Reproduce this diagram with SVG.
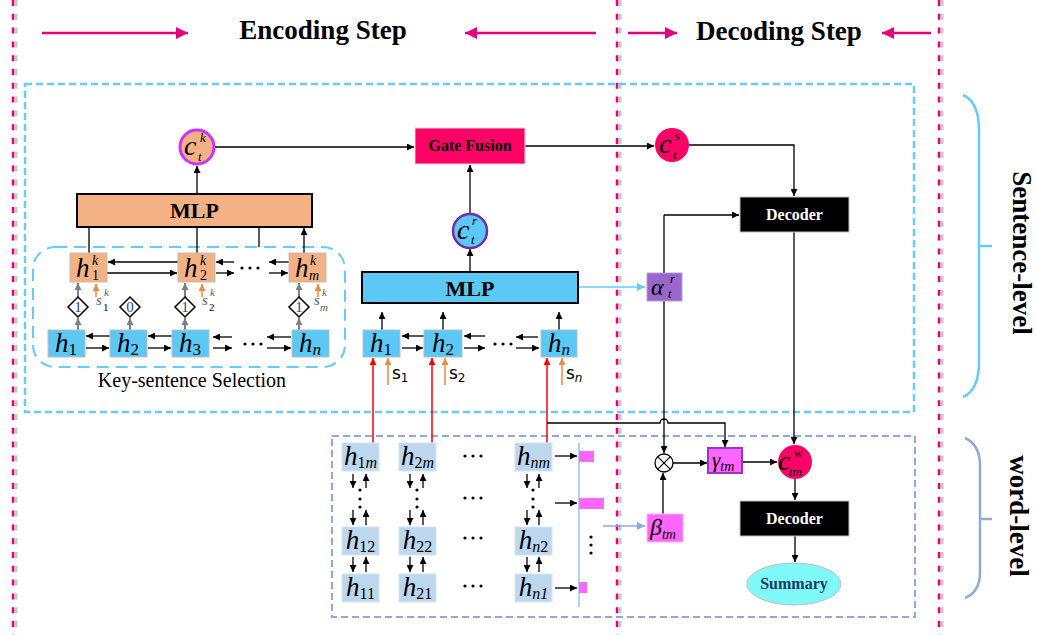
<svg xmlns="http://www.w3.org/2000/svg" width="1037" height="635" viewBox="0 0 1037 635">
<defs>
<marker id="ak" viewBox="0 0 10 10" refX="10" refY="5" markerWidth="8" markerHeight="7" markerUnits="userSpaceOnUse" orient="auto"><path d="M0,0L10,5L0,10z" fill="#000"/></marker>
<marker id="ag" viewBox="0 0 10 10" refX="10" refY="5" markerWidth="8" markerHeight="7" markerUnits="userSpaceOnUse" orient="auto"><path d="M0,0L10,5L0,10z" fill="#7f7f7f"/></marker>
<marker id="ao" viewBox="0 0 10 10" refX="10" refY="5" markerWidth="8" markerHeight="7" markerUnits="userSpaceOnUse" orient="auto"><path d="M0,0L10,5L0,10z" fill="#f08a3c"/></marker>
<marker id="ar" viewBox="0 0 10 10" refX="10" refY="5" markerWidth="8" markerHeight="7" markerUnits="userSpaceOnUse" orient="auto"><path d="M0,0L10,5L0,10z" fill="#ff0000"/></marker>
<marker id="al" viewBox="0 0 10 10" refX="10" refY="5" markerWidth="9" markerHeight="8" markerUnits="userSpaceOnUse" orient="auto"><path d="M0,0L10,5L0,10z" fill="#66ccff"/></marker>
<marker id="as" viewBox="0 0 10 10" refX="10" refY="5" markerWidth="9" markerHeight="8" markerUnits="userSpaceOnUse" orient="auto"><path d="M0,0L10,5L0,10z" fill="#8eaadb"/></marker>
<marker id="am" viewBox="0 0 10 10" refX="10" refY="5" markerWidth="14" markerHeight="12" markerUnits="userSpaceOnUse" orient="auto"><path d="M0,0L10,5L0,10z" fill="#e4007f"/></marker>
</defs>
<style>
text{font-family:"Liberation Serif","Times New Roman",serif;fill:#000}
.it{font-style:italic}
.b{font-weight:bold}
.hdr{font-size:27px;font-weight:bold}
.kk{stroke:#000;stroke-width:1.3;fill:none;marker-end:url(#ak)}
.g{stroke:#7f7f7f;stroke-width:2;fill:none;marker-end:url(#ag)}
.o{stroke:#f08a3c;stroke-width:1.5;fill:none;marker-end:url(#ao)}
.r{stroke:#ff0000;stroke-width:1.5;fill:none;marker-end:url(#ar)}
.div{stroke:#e4007f;stroke-width:2.5;stroke-dasharray:6 7.8}
.sh{stroke:#b0b0b0;stroke-width:3;stroke-dasharray:6 7.8;opacity:0.7}
.ob{fill:#f4b183;stroke:#bfbfbf;stroke-width:1}
.bb{fill:#5bc8f5;stroke:#bfbfbf;stroke-width:1}
.wb{fill:#bdd7ee;stroke:#d6e4f0;stroke-width:1}
.hl{font-size:27px;font-style:italic}
.cl{font-size:28px;font-style:italic}
.dot{fill:#000}
.dec{fill:#000;stroke:#bfbfbf;stroke-width:1}
.dect{fill:#fff;font-weight:bold;font-size:16px}
.dia{fill:#fff;stroke:#000;stroke-width:1.5}
.dn{fill:#1f4e79;font-size:15px}
.sk{fill:#595959;font-style:italic}
.sl{font-family:"DejaVu Sans",sans-serif;font-size:17px}
</style>

<g id="dividers">
<line class="sh" x1="16" y1="0" x2="16" y2="635"/>
<line class="div" x1="13" y1="0" x2="13" y2="635"/>
<line class="sh" x1="620" y1="0" x2="620" y2="635"/>
<line class="div" x1="617" y1="0" x2="617" y2="635"/>
<line class="sh" x1="942" y1="0" x2="942" y2="635"/>
<line class="div" x1="939" y1="0" x2="939" y2="635"/>
</g>

<g id="header">
<line x1="42" y1="33" x2="188" y2="33" stroke="#e4007f" stroke-width="2.5" marker-end="url(#am)"/>
<text class="hdr" x="323" y="39" text-anchor="middle">Encoding Step</text>
<line x1="596" y1="33" x2="465" y2="33" stroke="#e4007f" stroke-width="2.5" marker-end="url(#am)"/>
<line x1="628" y1="33" x2="677" y2="33" stroke="#e4007f" stroke-width="2.5" marker-end="url(#am)"/>
<text class="hdr" x="779" y="40" text-anchor="middle">Decoding Step</text>
<line x1="931" y1="33" x2="882" y2="33" stroke="#e4007f" stroke-width="2.5" marker-end="url(#am)"/>
</g>

<g id="regions">
<rect x="25" y="84" width="889" height="328" fill="none" stroke="#66ccff" stroke-width="2.5" stroke-dasharray="7 4"/>
<rect x="332" y="436" width="583" height="181" fill="none" stroke="#8eaadb" stroke-width="2" stroke-dasharray="7 4"/>
<rect x="33" y="247" width="312" height="120" rx="22" fill="none" stroke="#66ccff" stroke-width="2" stroke-dasharray="12 7"/>
<text x="192" y="387" text-anchor="middle" font-size="20" fill="#262626">Key-sentence Selection</text>
<path d="M963,95 Q979,102 979,130 V362 Q979,390 963,397 M979,246 H992" fill="none" stroke="#66ccff" stroke-width="2.5"/>
<text class="hdr" transform="translate(1013,253) rotate(90)" text-anchor="middle">Sentence-level</text>
<path d="M965,438 Q980,445 980,465 V572 Q980,592 965,598 M980,519 H992" fill="none" stroke="#8eaadb" stroke-width="2.5"/>
<text class="hdr" transform="translate(1010,516) rotate(90)" text-anchor="middle">word-level</text>
</g>

<g id="connectors">
<path class="kk" d="M197,194 V166"/>
<path class="kk" d="M214,147 H414"/>
<path class="kk" d="M89,253 V228 M197,253 V228 M259,247 V228 M304,253 V228"/>
<path class="kk" d="M178,262 H108"/><path class="kk" d="M107,273 H177"/>
<path class="kk" d="M234,262 H216"/><path class="kk" d="M216,273 H234"/>
<path class="kk" d="M289,262 H269"/><path class="kk" d="M269,273 H288"/>
<path class="kk" d="M110,336 H86"/><path class="kk" d="M86,348 H109"/>
<path class="kk" d="M172,336 H148"/><path class="kk" d="M148,348 H171"/>
<path class="kk" d="M232,337 H213"/><path class="kk" d="M213,348 H232"/>
<path class="kk" d="M291,337 H267"/><path class="kk" d="M267,348 H291"/>
<path class="g" d="M78,330 V318"/><path class="g" d="M78,297 V283"/>
<path class="g" d="M130,330 V318"/>
<path class="g" d="M185,330 V318"/><path class="g" d="M185,297 V283"/>
<path class="g" d="M299,330 V318"/><path class="g" d="M299,297 V283"/>
<path class="o" d="M96,297 V284"/><path class="o" d="M202,297 V284"/><path class="o" d="M318,297 V284"/>

<path class="kk" d="M470,213 V165"/>
<path class="kk" d="M470,272 V249"/>
<path class="kk" d="M382,330 V312"/><path class="kk" d="M443,330 V312"/><path class="kk" d="M559,330 V312"/>
<path class="kk" d="M424,336 H402"/><path class="kk" d="M402,348 H423"/>
<path class="kk" d="M485,336 H464"/><path class="kk" d="M464,348 H485"/>
<path class="kk" d="M538,337 H516"/><path class="kk" d="M516,348 H539"/>
<path class="r" d="M373,443 V358"/><path class="r" d="M432,443 V358"/><path class="r" d="M547,443 V358"/>
<path class="o" d="M388,385 V358"/><path class="o" d="M445,385 V358"/><path class="o" d="M562,385 V358"/>
<path d="M578,287 H645" stroke="#66ccff" stroke-width="1.3" fill="none" marker-end="url(#al)"/>

<path class="kk" d="M525,146 H654"/>
<path class="kk" d="M689,145 H794 V196"/>
<path class="kk" d="M664,215 H739"/>
<path class="kk" d="M664,215 V453"/>
<path class="kk" d="M794,232 V444"/>
<path class="kk" d="M547,423 H660 a4,4 0 0 1 8,0 H725 V447"/>
<path class="kk" d="M673,463 H707"/>
<path class="kk" d="M742,462 H777"/>
<path class="kk" d="M795,479 V500"/>
<path class="kk" d="M795,536 V562"/>
<path class="kk" d="M663,514 V473"/>
<path d="M603,526 H645" stroke="#8eaadb" stroke-width="1.5" fill="none" marker-end="url(#as)"/>

<path class="kk" d="M555,456 H577"/><path class="kk" d="M555,503 H577"/><path class="kk" d="M555,588 H577"/>
<path class="kk" d="M353,474 V488"/><path class="kk" d="M353,510 V525"/><path class="kk" d="M353,557 V572"/>
<path class="kk" d="M366,488 V474"/><path class="kk" d="M366,525 V510"/><path class="kk" d="M366,572 V557"/>
<path class="kk" d="M410,474 V488"/><path class="kk" d="M410,510 V525"/><path class="kk" d="M410,557 V572"/>
<path class="kk" d="M423,488 V474"/><path class="kk" d="M423,525 V510"/><path class="kk" d="M423,572 V557"/>
<path class="kk" d="M527,474 V488"/><path class="kk" d="M527,510 V525"/><path class="kk" d="M527,557 V572"/>
<path class="kk" d="M539,488 V474"/><path class="kk" d="M539,525 V510"/><path class="kk" d="M539,572 V557"/>
</g>

<g id="ctk">
<circle cx="197" cy="147" r="17" fill="#f4b183" stroke="#cc33ff" stroke-width="3"/>
<text class="cl" x="184" y="155">c</text>
<text class="it" x="200" y="142" font-size="13">k</text>
<text class="it" x="198" y="161" font-size="13">t</text>
</g>
<g id="mlp-k">
<rect x="77" y="194" width="235" height="33" fill="#f4b183" stroke="#000" stroke-width="2"/>
<text class="b" x="194.5" y="218" font-size="22" text-anchor="middle">MLP</text>
</g>
<g id="hk1"><rect class="ob" x="70" y="253" width="37" height="29"/>
<text class="hl" x="76" y="277">h</text><text class="it" x="92" y="265" font-size="14">k</text><text x="92" y="280" font-size="14">1</text></g>
<g id="hk2"><rect class="ob" x="178" y="253" width="37" height="29"/>
<text class="hl" x="184" y="277">h</text><text class="it" x="200" y="265" font-size="14">k</text><text x="200" y="280" font-size="14">2</text></g>
<g id="hkm"><rect class="ob" x="289" y="253" width="37" height="29"/>
<text class="hl" x="295" y="277">h</text><text class="it" x="310" y="265" font-size="14">k</text><text class="it" x="309" y="280" font-size="14">m</text></g>
<g id="hk-dots"><circle class="dot" cx="242" cy="268" r="1.6"/><circle class="dot" cx="250" cy="268" r="1.6"/><circle class="dot" cx="258" cy="268" r="1.6"/></g>

<g id="sel1"><path class="dia" d="M78,297 L88,307 L78,317 L68,307 Z"/><text class="dn" x="78" y="312" text-anchor="middle">1</text></g>
<g id="sel0"><path class="dia" d="M130,297 L140,307 L130,317 L120,307 Z"/><text class="dn" x="130" y="312" text-anchor="middle">0</text></g>
<g id="sel2"><path class="dia" d="M185,297 L195,307 L185,317 L175,307 Z"/><text class="dn" x="185" y="312" text-anchor="middle">1</text></g>
<g id="selm"><path class="dia" d="M299,297 L309,307 L299,317 L289,307 Z"/><text class="dn" x="299" y="312" text-anchor="middle">1</text></g>

<g id="sk-labels">
<text class="sk" x="96" y="305" font-size="15">s</text><text class="sk" x="104" y="296" font-size="11">k</text><text x="103" y="311" font-size="11" fill="#595959">1</text>
<text class="sk" x="202" y="305" font-size="15">s</text><text class="sk" x="210" y="296" font-size="11">k</text><text x="209" y="311" font-size="11" fill="#595959">2</text>
<text class="sk" x="314" y="305" font-size="15">s</text><text class="sk" x="322" y="296" font-size="11">k</text><text class="sk" x="320" y="311" font-size="11">m</text>
</g>

<g id="hl1"><rect class="bb" x="48" y="330" width="37" height="27"/><text class="hl" x="66" y="352" text-anchor="middle">h<tspan dy="3" font-size="17" font-style="normal">1</tspan></text></g>
<g id="hl2"><rect class="bb" x="110" y="330" width="37" height="27"/><text class="hl" x="128" y="352" text-anchor="middle">h<tspan dy="3" font-size="17" font-style="normal">2</tspan></text></g>
<g id="hl3"><rect class="bb" x="172" y="330" width="37" height="27"/><text class="hl" x="190" y="352" text-anchor="middle">h<tspan dy="3" font-size="17" font-style="normal">3</tspan></text></g>
<g id="hln"><rect class="bb" x="292" y="330" width="37" height="27"/><text class="hl" x="310" y="352" text-anchor="middle">h<tspan dy="3" font-size="17">n</tspan></text></g>
<g id="hl-dots"><circle class="dot" cx="245" cy="344" r="1.6"/><circle class="dot" cx="253" cy="344" r="1.6"/><circle class="dot" cx="261" cy="344" r="1.6"/></g>

<g id="gate">
<rect x="415" y="128" width="110" height="36" fill="#ff0066" stroke="#d9d9d9" stroke-width="1"/>
<text class="b" x="470" y="151" font-size="16" text-anchor="middle">Gate Fusion</text>
</g>
<g id="ctr">
<circle cx="470" cy="231" r="17" fill="#5bc8f5" stroke="#7030a0" stroke-width="2.5"/>
<text class="cl" x="457" y="239">c</text>
<text class="it" x="472" y="225" font-size="13">r</text>
<text class="it" x="471" y="244" font-size="13">t</text>
</g>
<g id="mlp-r">
<rect x="362" y="272" width="216" height="31" fill="#5bc8f5" stroke="#000" stroke-width="2"/>
<text class="b" x="470" y="296" font-size="22" text-anchor="middle">MLP</text>
</g>
<g id="hm1"><rect class="bb" x="363" y="330" width="37" height="27"/><text class="hl" x="381" y="352" text-anchor="middle">h<tspan dy="3" font-size="17" font-style="normal">1</tspan></text></g>
<g id="hm2"><rect class="bb" x="424" y="330" width="38" height="27"/><text class="hl" x="443" y="352" text-anchor="middle">h<tspan dy="3" font-size="17" font-style="normal">2</tspan></text></g>
<g id="hmn"><rect class="bb" x="541" y="330" width="36" height="27"/><text class="hl" x="559" y="352" text-anchor="middle">h<tspan dy="3" font-size="17">n</tspan></text></g>
<g id="hm-dots"><circle class="dot" cx="495" cy="344" r="1.6"/><circle class="dot" cx="503" cy="344" r="1.6"/><circle class="dot" cx="511" cy="344" r="1.6"/></g>
<g id="s-labels">
<text class="sl" x="392" y="379">s<tspan dy="3" font-size="12">1</tspan></text>
<text class="sl" x="449" y="379">s<tspan dy="3" font-size="12">2</tspan></text>
<text class="sl" x="566" y="379">s<tspan dy="3" font-size="12" font-style="italic">n</tspan></text>
</g>

<g id="alpha">
<rect x="647" y="273" width="35" height="28" fill="#9966cc" stroke="#b4a0d8" stroke-width="1"/>
<text class="it" x="651" y="295" font-size="24">α</text>
<text class="it" x="670" y="283" font-size="12">r</text>
<text class="it" x="668" y="298" font-size="12">t</text>
</g>
<g id="cts">
<circle cx="672" cy="145" r="17" fill="#ff0066"/>
<text class="cl" x="659" y="153">c</text>
<text class="it" x="675" y="140" font-size="13">s</text>
<text class="it" x="673" y="159" font-size="13">t</text>
</g>
<g id="decoder1">
<rect class="dec" x="740" y="197" width="109" height="35"/>
<text class="dect" x="794.5" y="220" text-anchor="middle">Decoder</text>
</g>
<g id="otimes">
<circle cx="664" cy="463" r="9" fill="#fff" stroke="#000" stroke-width="1.3"/>
<path d="M657.6,456.6 L670.4,469.4 M670.4,456.6 L657.6,469.4" stroke="#000" stroke-width="1.2"/>
</g>
<g id="gamma">
<rect x="708" y="448" width="34" height="25" fill="#ff66ff" stroke="#9933cc" stroke-width="2"/>
<text class="it" x="712" y="467" font-size="21">γ<tspan dy="4" font-size="14">tm</tspan></text>
</g>
<g id="ctmw">
<circle cx="795" cy="462" r="17" fill="#ff0066"/>
<text class="cl" x="778" y="470">c</text>
<text class="it" x="794" y="457" font-size="13">w</text>
<text class="it" x="789" y="476" font-size="13">tm</text>
</g>
<g id="decoder2">
<rect class="dec" x="740" y="501" width="109" height="35"/>
<text class="dect" x="794.5" y="524" text-anchor="middle">Decoder</text>
</g>
<g id="summary">
<ellipse cx="794" cy="584" rx="47" ry="21" fill="#7ff8f8" stroke="#c0c0c0" stroke-width="1"/>
<text class="b" x="794" y="589" font-size="16" text-anchor="middle" style="fill:#1f3864">Summary</text>
</g>
<g id="beta">
<rect x="647" y="514" width="36" height="28" fill="#ff66ff" stroke="#ffb3ff" stroke-width="1"/>
<text class="it" x="650" y="535" font-size="24">β<tspan dy="4" font-size="14">tm</tspan></text>
</g>

<g id="w1m"><rect class="wb" x="342" y="443" width="37" height="28"/><text class="hl" x="360.5" y="465" text-anchor="middle">h<tspan dy="3" font-size="16"><tspan font-style="normal">1</tspan>m</tspan></text></g>
<g id="w2m"><rect class="wb" x="399" y="443" width="37" height="28"/><text class="hl" x="417.5" y="465" text-anchor="middle">h<tspan dy="3" font-size="16"><tspan font-style="normal">2</tspan>m</tspan></text></g>
<g id="wnm"><rect class="wb" x="515" y="443" width="37" height="28"/><text class="hl" x="533.5" y="465" text-anchor="middle">h<tspan dy="3" font-size="16">nm</tspan></text></g>
<g id="w12"><rect class="wb" x="342" y="527" width="37" height="28"/><text class="hl" x="360.5" y="549" text-anchor="middle">h<tspan dy="3" font-size="16" font-style="normal">12</tspan></text></g>
<g id="w22"><rect class="wb" x="399" y="527" width="37" height="28"/><text class="hl" x="417.5" y="549" text-anchor="middle">h<tspan dy="3" font-size="16" font-style="normal">22</tspan></text></g>
<g id="wn2"><rect class="wb" x="515" y="527" width="37" height="28"/><text class="hl" x="533.5" y="549" text-anchor="middle">h<tspan dy="3" font-size="16">n<tspan font-style="normal">2</tspan></tspan></text></g>
<g id="w11"><rect class="wb" x="342" y="574" width="37" height="28"/><text class="hl" x="360.5" y="596" text-anchor="middle">h<tspan dy="3" font-size="16" font-style="normal">11</tspan></text></g>
<g id="w21"><rect class="wb" x="399" y="574" width="37" height="28"/><text class="hl" x="417.5" y="596" text-anchor="middle">h<tspan dy="3" font-size="16" font-style="normal">21</tspan></text></g>
<g id="wn1"><rect class="wb" x="515" y="574" width="37" height="28"/><text class="hl" x="533.5" y="596" text-anchor="middle">h<tspan dy="3" font-size="16">n1</tspan></text></g>
<g id="word-dots">
<circle class="dot" cx="465" cy="456" r="1.6"/><circle class="dot" cx="473" cy="456" r="1.6"/><circle class="dot" cx="481" cy="456" r="1.6"/>
<circle class="dot" cx="465" cy="498" r="1.6"/><circle class="dot" cx="473" cy="498" r="1.6"/><circle class="dot" cx="481" cy="498" r="1.6"/>
<circle class="dot" cx="465" cy="538" r="1.6"/><circle class="dot" cx="473" cy="538" r="1.6"/><circle class="dot" cx="481" cy="538" r="1.6"/>
<circle class="dot" cx="465" cy="586" r="1.6"/><circle class="dot" cx="473" cy="586" r="1.6"/><circle class="dot" cx="481" cy="586" r="1.6"/>
<circle class="dot" cx="360" cy="490" r="1.6"/><circle class="dot" cx="360" cy="499" r="1.6"/><circle class="dot" cx="360" cy="507" r="1.6"/>
<circle class="dot" cx="417" cy="490" r="1.6"/><circle class="dot" cx="417" cy="499" r="1.6"/><circle class="dot" cx="417" cy="507" r="1.6"/>
<circle class="dot" cx="533" cy="490" r="1.6"/><circle class="dot" cx="533" cy="499" r="1.6"/><circle class="dot" cx="533" cy="507" r="1.6"/>
<circle class="dot" cx="591" cy="537" r="1.6"/><circle class="dot" cx="591" cy="545" r="1.6"/><circle class="dot" cx="591" cy="553" r="1.6"/>
</g>
<g id="attention-bars">
<line x1="579" y1="443" x2="579" y2="607" stroke="#9dc3e6" stroke-width="1.5"/>
<rect x="579" y="451" width="15" height="11" fill="#ff66ff"/>
<rect x="579" y="498" width="25" height="11" fill="#ff66ff"/>
<rect x="579" y="582" width="8" height="11" fill="#ff66ff"/>
</g>
</svg>
